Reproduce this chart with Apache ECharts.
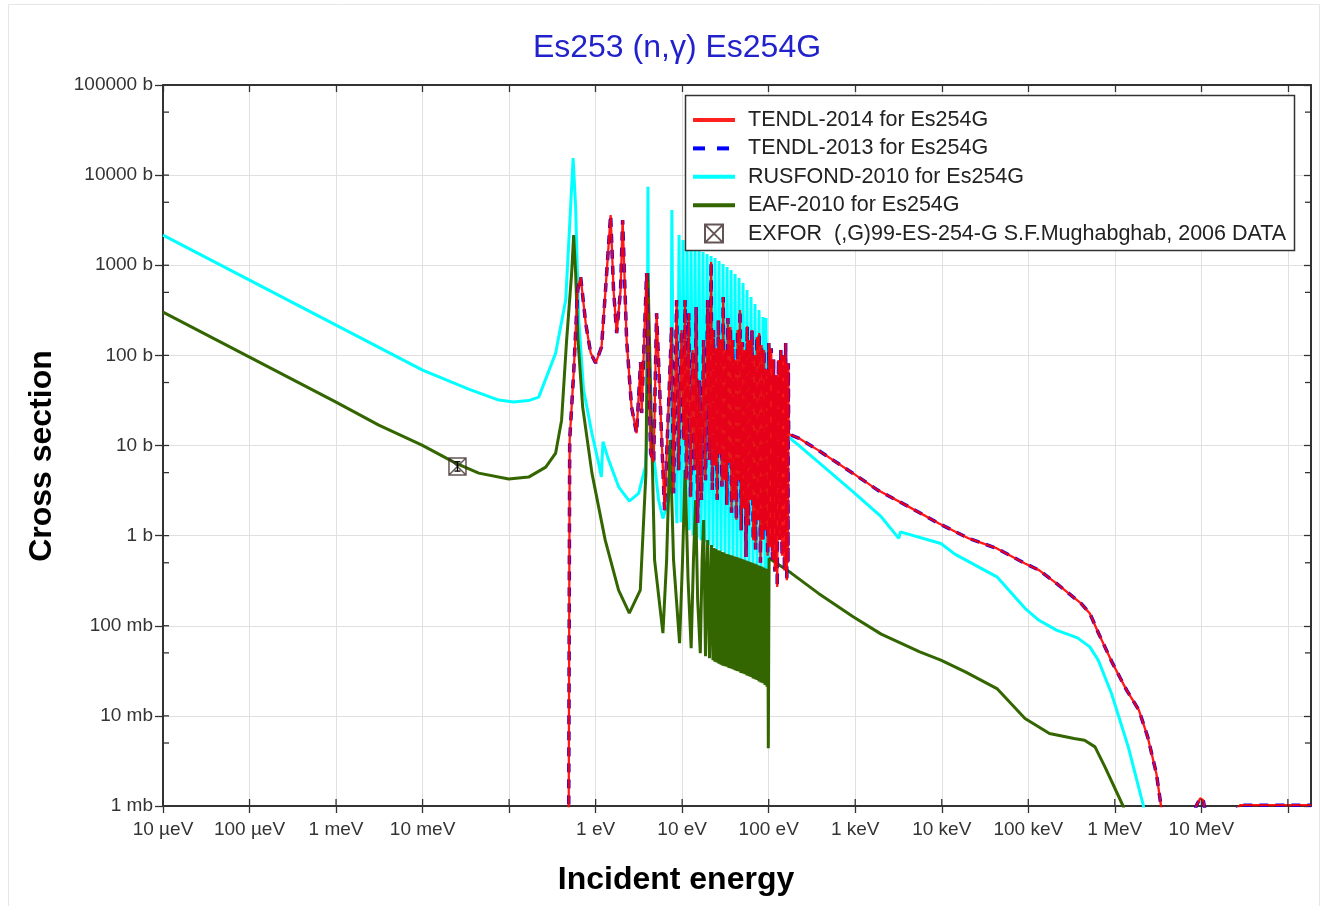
<!DOCTYPE html>
<html><head><meta charset="utf-8">
<script src="https://cdn.jsdelivr.net/npm/echarts@6/dist/echarts.min.js"></script>
<style>html,body{margin:0;padding:0;background:#fff;}#c{width:1328px;height:906px;}</style>
</head><body><div id="c"></div>
<script>
// ---- tick values / labels ----
const xTickValues = [1e-5,1e-4,1e-3,1e-2,1e-1,1,10,100,1e3,1e4,1e5,1e6,1e7,1e8];
const xTickLabels = ['10 µeV','100 µeV','1 meV','10 meV','','1 eV','10 eV','100 eV','1 keV','10 keV','100 keV','1 MeV','10 MeV',''];
const yTickValues = [1e-3,1e-2,1e-1,1,10,100,1e3,1e4,1e5];
const yTickLabels = ['1 mb','10 mb','100 mb','1 b','10 b','100 b','1000 b','10000 b','100000 b'];
const yMinorTickValues = [5e-3,5e-2,0.5,5,50,500,5e3,5e4];

// ---- series data: [energy (eV), cross section (b)] ----
const tendl2014 = [
[0.480,1e-6],[0.501,11.5],[0.557,63.7],[0.620,531],[0.671,740],[0.767,228],[0.876,106],[1.00,82.2],
[1.17,124],[1.30,531],[1.49,3610],[1.61,531],[1.75,177],[1.94,531],[2.05,3170],[2.28,148],[2.60,26.7],
[2.97,13.7],[3.22,53.2],[3.31,84.3],[3.40,22.9],[3.88,819],[4.32,8.24],[4.68,6.55],[5.06,294],[6.26,1.92],
[7.54,206],[7.95,2.96],[8.62,411],[9.09,5.33],[9.84,191],[10.4,11.5],[10.8,411],[11.2,4.13],[11.9,294],
[12.5,2.67],[13.2,115],[13.9,5.33],[14.5,344],[15.1,1.38],[15.9,53.2],[16.7,2.48],[17.7,148],[18.6,4.13],
[19.7,411],[20.7,6.89],[21.6,1085],
[22.3,3.2],[23.0,191],[23.8,6.0],[24.6,120],[25.4,2.5],[26.2,247],[27.0,8.0],[27.9,150],[28.8,3.5],[29.8,444],
[30.7,4.1],[31.7,115],[32.8,2.2],[33.8,260],[34.9,6.4],[36.1,206],[37.2,1.8],[38.4,148],[39.7,2.5],[41.0,90],
[42.3,1.5],[43.7,191],[45.1,4.1],[46.6,318],[48.1,1.15],[49.7,140],[51.3,2.0],[52.9,115],[54.7,0.58],[56.4,210],
[58.3,1.3],[60.2,148],[62.1,2.48],[64.1,191],[66.2,0.89],[68.4,100],[70.6,0.7],[72.9,160],[75.3,1.49],[77.7,177],
[80.2,0.5],[82.8,130],[85.5,0.9],[88.3,115],[91.2,1.15],[94.1,70],[97.2,0.6],[100.3,137],[103.6,0.745],[107,120],
[110.4,0.54],[114,90],[117.7,0.4],[121.5,60],[125.5,0.27],[129.6,89],[133.8,0.9],[138.1,115],[142.6,0.6],[147.2,100],
[152,0.41],[157,137],[162,0.32],[165,82],[167,0.5],[168.5,82],
[170,13.4],[221,12.1],[372,8.89],[946,4.90],[1819,3.20],[3839,2.18],[9306,1.36],[20550,0.931],[43400,0.721],
[91600,0.491],[132900,0.414],[211600,0.295],[406900,0.177],[514200,0.137],[650000,0.0822],[943000,0.0382],
[1.368e6,0.0193],[1.897e6,0.0116],[2.398e6,0.00585],[3.02e6,0.00230],[3.42e6,0.00100],[4.14e6,0.0004],
[8.0e6,0.0006],[8.7e6,0.0010],[9.7e6,0.00122],[1.05e7,0.00116],[1.13e7,0.0008],[1.36e7,0.0003],
[2.52e7,0.0009],[2.8e7,0.00102],[1.85e8,0.00102]
];
const tendl2013 = [
[0.480,1e-6],[0.501,11.5],[0.557,63.7],[0.620,531],[0.671,740],[0.767,228],[0.876,106],[1.00,82.2],
[1.17,124],[1.30,531],[1.49,3610],[1.61,531],[1.75,177],[1.94,531],[2.05,3170],[2.28,148],[2.60,26.7],
[2.97,13.7],[3.22,53.2],[3.31,84.3],[3.40,22.9],[3.88,819],[4.32,8.24],[4.68,6.55],[5.06,294],[6.26,1.92],
[7.54,206],[7.95,2.96],[8.62,411],[9.09,5.33],[9.84,191],[10.4,11.5],[10.8,411],[11.2,4.13],[11.9,294],
[12.5,2.67],[13.2,115],[13.9,5.33],[14.5,344],[15.1,1.38],[15.9,53.2],[16.7,2.48],[17.7,148],[18.6,4.13],
[19.7,411],[20.7,6.89],[21.6,1085],
[22.3,3.2],[23.0,191],[23.8,6.0],[24.6,120],[25.4,2.5],[26.2,247],[27.0,8.0],[27.9,150],[28.8,3.5],[29.8,444],
[30.7,4.1],[31.7,115],[32.8,2.2],[33.8,260],[34.9,6.4],[36.1,206],[37.2,1.8],[38.4,148],[39.7,2.5],[41.0,90],
[42.3,1.5],[43.7,191],[45.1,4.1],[46.6,318],[48.1,1.15],[49.7,140],[51.3,2.0],[52.9,115],[54.7,0.58],[56.4,210],
[58.3,1.3],[60.2,148],[62.1,2.48],[64.1,191],[66.2,0.89],[68.4,100],[70.6,0.7],[72.9,160],[75.3,1.49],[77.7,177],
[80.2,0.5],[82.8,130],[85.5,0.9],[88.3,115],[91.2,1.15],[94.1,70],[97.2,0.6],[100.3,137],[103.6,0.745],[107,120],
[110.4,0.54],[114,90],[117.7,0.4],[121.5,60],[125.5,0.27],[129.6,89],[133.8,0.9],[138.1,115],[142.6,0.6],[147.2,100],
[152,0.41],[157,137],[162,0.32],[165,82],[167,0.5],[168.5,82],
[170,13.4],[221,12.1],[372,8.89],[946,4.90],[1819,3.20],[3839,2.18],[9306,1.36],[20550,0.931],[43400,0.721],
[91600,0.491],[132900,0.414],[211600,0.295],[406900,0.177],[514200,0.137],[650000,0.0822],[943000,0.0382],
[1.368e6,0.0193],[1.897e6,0.0116],[2.398e6,0.00585],[3.02e6,0.00230],[3.42e6,0.00100],[4.14e6,0.0004],
[8.0e6,0.0006],[8.7e6,0.0010],[9.7e6,0.00122],[1.05e7,0.00116],[1.13e7,0.0008],[1.36e7,0.0003],
[2.52e7,0.0009],[2.8e7,0.00102],[1.85e8,0.00102]
];
const rusfond2010 = [
[1e-5,2160],[1e-4,685],[1e-3,217],[0.01,68.7],[0.0341,42.3],[0.0759,31.9],[0.113,30.3],[0.168,31.5],
[0.22,34.4],[0.345,106],[0.451,411],[0.514,4430],[0.549,15500],[0.587,4430],[0.637,250],[0.726,41.2],
[0.906,13.6],[1.083,6.33],[1.164,4.49],[1.214,11.0],[1.413,6.89],[1.844,3.48],[2.449,2.41],[3.137,2.94],
[3.75,5.80],[3.91,11.5],[3.96,60],[4.02,7430],[4.08,60],[4.47,11.5],[5.34,2.48],[5.99,1.55],[6.97,2.48],
[7.40,11.5],[7.60,4100],[7.95,11.5],[8.69,1.37],
[9.21,2160],[9.71,1.41],[10.24,1905],[10.80,1.31],[11.39,1905],[12.02,1.15],[12.67,1675],[13.36,1.01],
[14.09,1552],[14.86,0.938],[15.67,1475],[16.53,0.891],[17.43,1402],[18.38,0.847],[19.39,1331],[20.45,0.785],
[21.57,1265],[22.74,0.745],[23.99,1202],[25.30,0.708],[26.68,1113],[28.14,0.673],[29.68,1031],[31.30,0.639],
[33.01,955],[34.81,0.608],[36.71,885],[38.71,0.592],[40.82,798],[43.05,0.562],[45.40,721],[47.88,0.535],
[50.50,634],[53.25,0.521],[56.16,531],[59.23,0.495],[62.46,444],[65.87,0.483],[69.47,371],[73.26,0.459],
[77.27,318],[81.49,0.436],[85.93,266],[90.63,0.414],[93.0,260],[99.0,0.0828],
[101,16.8],[169,12.4],[221,10.1],[946,3.06],[1995,1.62],[3187,0.931],[3325,1.10],[9760,0.819],[14160,0.623],
[43400,0.349],[91600,0.156],[132900,0.115],[211600,0.0894],[370700,0.0734],[514200,0.0583],[643000,0.0415],
[915800,0.0177],[1.43e6,0.00453],[2.13e6,0.00102],[2.6e6,0.0004]
];
const eaf2010 = [
[1e-5,302],[1e-4,95.8],[1e-3,30.3],[0.00312,16.8],[0.00984,10.1],[0.0241,6.38],[0.0446,4.94],[0.0989,4.24],
[0.168,4.46],[0.265,5.76],[0.345,8.24],[0.404,19.1],[0.462,148],[0.528,819],[0.557,2160],[0.587,819],
[0.625,148],[0.708,26.7],[0.906,4.94],[1.29,0.891],[1.84,0.248],[2.45,0.138],[3.28,0.248],[3.81,4.94],
[4.02,819],[4.80,0.535],[5.99,0.0828],[6.61,0.535],[7.25,11.5],[7.95,0.535],[9.33,0.0641],[10.1,0.535],
[10.8,5.33],[11.7,0.321],[12.7,0.0564],[13.5,0.535],[14.3,2.48],[15.1,0.192],[16.2,0.0497],[17.0,0.535],
[17.7,1.49],[18.6,0.0460],[19.7,0.891],[20.7,0.0437],[21.8,0.785],
[22.7,0.0415],[23.3,0.73],[23.9,0.040],[24.6,0.71],[25.2,0.039],[25.9,0.69],[26.6,0.038],[27.3,0.68],
[28.1,0.037],[28.8,0.66],[29.6,0.036],[30.4,0.65],[31.2,0.0355],[32.1,0.63],[32.9,0.035],[33.8,0.62],
[34.7,0.034],[35.7,0.61],[36.6,0.0335],[37.6,0.60],[38.6,0.033],[39.7,0.59],[40.7,0.032],[41.8,0.58],
[43.0,0.0315],[44.1,0.57],[45.3,0.031],[46.6,0.56],[47.8,0.030],[49.1,0.55],[50.5,0.0295],[51.8,0.54],
[53.2,0.029],[54.7,0.53],[56.1,0.028],[57.7,0.52],[59.2,0.0275],[60.8,0.51],[62.5,0.027],[64.1,0.50],
[65.9,0.026],[67.7,0.49],[69.5,0.0255],[71.4,0.48],[73.3,0.025],[75.3,0.47],[77.3,0.024],[79.4,0.46],
[81.5,0.0235],[83.7,0.45],[86.0,0.023],[88.3,0.44],[90.7,0.022],[93.1,0.43],[95.6,0.021],[97.5,0.41],
[99.0,0.00438],
[101,0.562],[182,0.384],[373,0.230],[946,0.126],[1995,0.0807],[5570,0.0513],[9760,0.0415],[18730,0.0308],
[43400,0.0201],[91600,0.00935],[175700,0.00638],[337900,0.00561],[446700,0.00537],[590400,0.00453],
[768500,0.00272],[1.246e6,0.00100],[1.63e6,0.0004]
];
const exfor = [[0.0253,5.86]];
const exforErr = [[0.0253,5.2,6.6]];

const FONT = "'Liberation Sans', Arial, sans-serif";
const NAMES = ['TENDL-2014 for Es254G','TENDL-2013 for Es254G','RUSFOND-2010 for Es254G','EAF-2010 for Es254G','EXFOR  (,G)99-ES-254-G S.F.Mughabghab, 2006 DATA'];
const BOXX = 'path://M0,0L10,0L10,10L0,10Z M0,0L10,10 M10,0L0,10';
const XMIN = 1e-5, XMAX = 1.85e8, YMIN = 1e-3, YMAX = 1e5;

function lookup(vals, labs, v){
  const lv = Math.log10(v);
  for (let i=0;i<vals.length;i++){ if (Math.abs(Math.log10(vals[i])-lv) < 1e-6) return labs[i]; }
  return '';
}
const TICK = {stroke:'#333', lineWidth:1.3};

const chart = echarts.init(document.getElementById('c'), null, {renderer:'canvas'});
const axisCommon = {type:'log', logBase:10};
const hideIcon = {opacity:0};
const option = {
  animation:false,
  backgroundColor:'#fff',
  title:{text:'Es253 (n,γ) Es254G', left:672, textAlign:'center', top:27,
    textStyle:{fontFamily:FONT, fontSize:32, fontWeight:'normal', color:'#2222cc'}},
  grid:{left:163, right:17, top:85, bottom:100, containLabel:false},
  xAxis:[
    Object.assign({}, axisCommon, {min:XMIN, max:XMAX, position:'bottom',
      axisLine:{lineStyle:{color:'#333', width:2}},
      axisTick:{customValues:xTickValues, length:7, lineStyle:{color:'#333', width:1.3}},
      axisLabel:{customValues:xTickValues, margin:14, fontFamily:FONT, fontSize:19, color:'#333',
        formatter:v => lookup(xTickValues, xTickLabels, v)},
      splitLine:{show:true, lineStyle:{color:'#e0e0e0', width:1}}}),
    Object.assign({}, axisCommon, {min:XMIN, max:XMAX, position:'top',
      axisLine:{lineStyle:{color:'#333', width:2}},
      axisTick:{customValues:xTickValues, inside:true, length:7, lineStyle:{color:'#333', width:1.3}},
      axisLabel:{show:false}, splitLine:{show:false}})
  ],
  yAxis:[
    Object.assign({}, axisCommon, {min:YMIN, max:YMAX, position:'left',
      axisLine:{lineStyle:{color:'#333', width:2}},
      axisTick:{length:8, lineStyle:{color:'#333', width:1.3}},
      axisLabel:{margin:10, fontFamily:FONT, fontSize:19, color:'#333',
        formatter:v => lookup(yTickValues, yTickLabels, v)},
      splitLine:{show:true, lineStyle:{color:'#e0e0e0', width:1}}}),
    Object.assign({}, axisCommon, {min:YMIN, max:YMAX, position:'right',
      axisLine:{lineStyle:{color:'#333', width:2}},
      axisTick:{inside:true, length:7, lineStyle:{color:'#333', width:1.3}},
      axisLabel:{show:false}, splitLine:{show:false}})
  ],
  legend:{
    orient:'vertical', left:686, top:104, itemWidth:42, itemHeight:18, itemGap:6.4, z:100,
    textStyle:{fontFamily:FONT, fontSize:21.5, color:'#222', lineHeight:21, padding:[0,0,0,8]},
    data:[
      {name:NAMES[0], itemStyle:hideIcon, lineStyle:{opacity:1, width:4, color:'#ff2020'}},
      {name:NAMES[1], itemStyle:hideIcon, lineStyle:{width:4, type:[12,12]}},
      {name:NAMES[2], itemStyle:hideIcon, lineStyle:{width:4}},
      {name:NAMES[3], itemStyle:hideIcon, lineStyle:{width:4}},
      {name:NAMES[4], icon:BOXX}
    ]
  },
  graphic:[
    {type:'rect', z:90, shape:{x:685.5, y:95.5, width:609, height:155}, style:{fill:'#fff', stroke:'#333', lineWidth:1.5}},
    {type:'rect', z:0, shape:{x:8.5, y:4.5, width:1311, height:910}, style:{fill:'none', stroke:'#e6e6e6', lineWidth:1}},
    {type:'text', z:10, x:676, y:880, style:{text:'Incident energy', font:"bold 32px 'Liberation Sans', Arial", fill:'#000', textAlign:'center', textVerticalAlign:'middle'}},
    {type:'text', z:10, x:42, y:456, rotation:Math.PI/2, style:{text:'Cross section', font:"bold 32px 'Liberation Sans', Arial", fill:'#000', textAlign:'center', textVerticalAlign:'middle'}}
  ],
  series:[
    {name:NAMES[2], type:'line', data:rusfond2010, symbol:'none', showSymbol:false, sampling:'none',
      lineStyle:{color:'#00ffff', width:3}, itemStyle:{color:'#00ffff'}, z:2},
    {name:NAMES[3], type:'line', data:eaf2010, symbol:'none', showSymbol:false, sampling:'none',
      lineStyle:{color:'#336600', width:3}, itemStyle:{color:'#336600'}, z:2},
    {name:NAMES[1], type:'line', data:tendl2013, symbol:'none', showSymbol:false, sampling:'none',
      lineStyle:{color:'#0000ff', width:3.5, type:[9,7]}, itemStyle:{color:'#0000ff'}, z:2},
    {name:NAMES[0], type:'line', data:tendl2014, symbol:'none', showSymbol:false, sampling:'none',
      lineStyle:{color:'#ff0000', width:2.3, opacity:0.9}, itemStyle:{color:'#ff0000'}, z:2},
    {name:NAMES[4], type:'scatter', data:exfor, symbol:BOXX, symbolSize:17, z:6,
      itemStyle:{color:'rgba(255,255,255,0)', borderColor:'#3d2b2b', borderWidth:1.5}},
    {name:'exforErr', type:'custom', data:exforErr, z:7,
      renderItem:(params, api) => {
        const x = api.value(0);
        const lo = api.coord([x, api.value(1)]);
        const hi = api.coord([x, api.value(2)]);
        const st = {stroke:'#000', lineWidth:1.3};
        return {type:'group', children:[
          {type:'line', shape:{x1:lo[0], y1:lo[1], x2:hi[0], y2:hi[1]}, style:st},
          {type:'line', shape:{x1:lo[0]-3, y1:lo[1], x2:lo[0]+3, y2:lo[1]}, style:st},
          {type:'line', shape:{x1:hi[0]-3, y1:hi[1], x2:hi[0]+3, y2:hi[1]}, style:st}
        ]};
      }},
    {name:'yMinor', type:'custom', silent:true, z:8, data:yMinorTickValues.map(v => [XMIN, v]),
      renderItem:(params, api) => {
        const a = api.coord([XMIN, api.value(1)]);
        const b = api.coord([XMAX, api.value(1)]);
        return {type:'group', children:[
          {type:'line', shape:{x1:a[0], y1:a[1], x2:a[0]+6, y2:a[1]}, style:TICK},
          {type:'line', shape:{x1:b[0], y1:b[1], x2:b[0]-6, y2:b[1]}, style:TICK}
        ]};
      }},
    {name:'yMajorIn', type:'custom', silent:true, z:8, data:yTickValues.map(v => [XMIN, v]),
      renderItem:(params, api) => {
        const a = api.coord([XMIN, api.value(1)]);
        return {type:'line', shape:{x1:a[0], y1:a[1], x2:a[0]+6, y2:a[1]}, style:TICK};
      }},
    {name:'xMajorIn', type:'custom', silent:true, z:8, data:xTickValues.map(v => [v, YMIN]),
      renderItem:(params, api) => {
        const a = api.coord([api.value(0), YMIN]);
        return {type:'line', shape:{x1:a[0], y1:a[1], x2:a[0], y2:a[1]-7}, style:TICK};
      }}
  ]
};
chart.setOption(option);
</script>
</body></html>
